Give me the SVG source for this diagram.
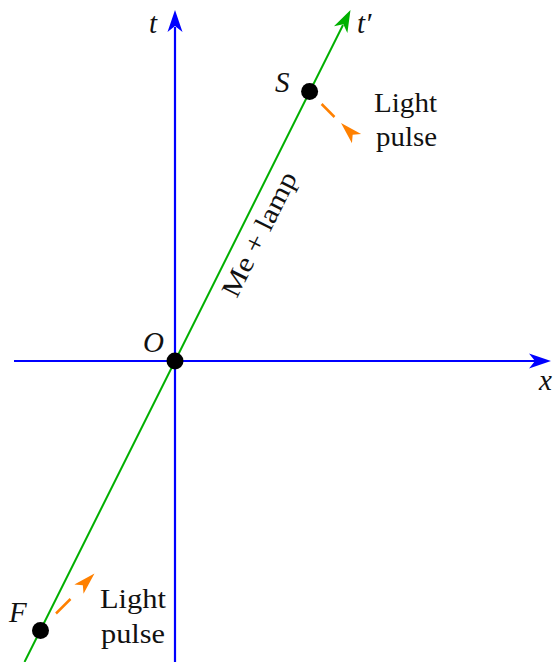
<svg xmlns="http://www.w3.org/2000/svg" width="554" height="662" viewBox="0 0 554 662">
<style>
text { font-family: "Liberation Serif", "Times New Roman", serif; font-size: 27px; fill: #111111; }
.math { font-style: italic; font-size: 29px; }
.axis { stroke: #0000ff; stroke-width: 2.2; fill: none; }
.world { stroke: #00b000; stroke-width: 2; fill: none; }
.pulse { stroke: #ff8000; stroke-width: 2.5; fill: none; }
.dot { fill: #000000; }
</style>
<defs>
<path id="stealth" d="M0,0 L-22,-7.5 L-16,0 L-22,7.5 Z"/>
<path id="stealthS" d="M0,0 L-22,-6.5 L-16.5,0 L-22,6.5 Z"/>
</defs>
<rect width="554" height="662" fill="#ffffff"/>
<g id="connectors">
  <line class="axis" x1="175" y1="662" x2="175" y2="27"/>
  <use href="#stealth" fill="#0000ff" transform="translate(175,10) rotate(-90)"/>
  <line class="axis" x1="14" y1="361" x2="535" y2="361"/>
  <use href="#stealth" fill="#0000ff" transform="translate(551,361)"/>
  <line class="world" x1="24.5" y1="662" x2="343" y2="25"/>
  <use href="#stealth" fill="#00b000" transform="translate(350.5,10) rotate(-63.43)"/>
  <line class="pulse" x1="321.6" y1="104" x2="334.5" y2="117"/>
  <use href="#stealthS" fill="#ff8000" transform="translate(341,123) rotate(-135)"/>
  <line class="pulse" x1="56" y1="613.5" x2="70.5" y2="599"/>
  <use href="#stealthS" fill="#ff8000" transform="translate(94.5,573.5) rotate(-45)"/>
</g>
<g id="axis-t"><text class="math" x="149" y="33">t</text></g>
<g id="axis-x"><text class="math" x="539" y="390">x</text></g>
<g id="axis-tprime"><text class="math" x="357" y="33">t′</text></g>
<g id="worldline-label"><text transform="translate(243,226) rotate(-63.43)" x="0" y="27" text-anchor="middle" textLength="136" lengthAdjust="spacingAndGlyphs">Me + lamp</text></g>
<g id="node-O"><circle class="dot" cx="175" cy="361" r="8.5"/><text class="math" x="143" y="352">O</text></g>
<g id="node-S"><circle class="dot" cx="309.6" cy="91.5" r="8.5"/><text class="math" x="275" y="92">S</text></g>
<g id="node-F"><circle class="dot" cx="40.5" cy="630.5" r="8.5"/><text class="math" x="9" y="622">F</text></g>
<g id="pulse-S-label"><text x="374" y="112" textLength="63" lengthAdjust="spacingAndGlyphs">Light</text><text x="376" y="146" textLength="61" lengthAdjust="spacingAndGlyphs">pulse</text></g>
<g id="pulse-F-label"><text x="100" y="608" textLength="66" lengthAdjust="spacingAndGlyphs">Light</text><text x="101" y="643" textLength="64" lengthAdjust="spacingAndGlyphs">pulse</text></g>
</svg>
